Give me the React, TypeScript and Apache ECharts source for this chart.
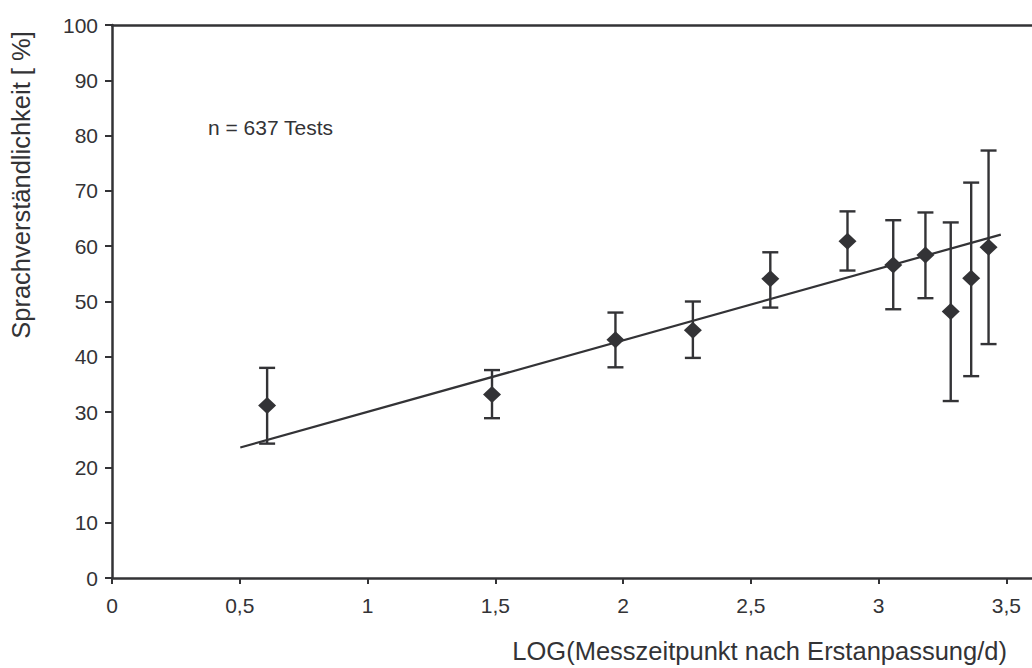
import React, { useEffect, useRef } from "react";
import * as echarts from "echarts";

const xValues = [0.607, 1.487, 1.97, 2.273, 2.576, 2.878, 3.057, 3.183, 3.282, 3.362, 3.43];
const yMeans = [31.2, 33.2, 43.1, 44.8, 54.1, 60.9, 56.6, 58.4, 48.2, 54.2, 59.8];
const yLow = [24.3, 28.9, 38.1, 39.8, 48.9, 55.6, 48.6, 50.6, 32.0, 36.5, 42.3];
const yHigh = [38.0, 37.6, 48.0, 50.0, 58.9, 66.3, 64.7, 66.1, 64.3, 71.5, 77.3];
const trendX = [0.502, 3.478];
const trendY = [23.6, 62.1];

const INK = "#333336";
const FONT = "'Liberation Sans', Arial, sans-serif";

export default function App() {
  const ref = useRef<HTMLDivElement>(null);
  useEffect(() => {
    if (!ref.current) return;
    const chart = echarts.init(ref.current, undefined, { renderer: "svg" });
    const points = xValues.map((x, i) => [x, yMeans[i]]);
    const bars = xValues.map((x, i) => [x, yLow[i], yHigh[i]]);
    const trend = trendX.map((x, i) => [x, trendY[i]]);
    chart.setOption({
      animation: false,
      backgroundColor: "#ffffff",
      grid: { left: 112, top: 25, bottom: 90, right: -3.4 },
      xAxis: [
        {
          type: "value",
          min: 0,
          max: 3.6,
          interval: 0.5,
          splitLine: { show: false },
          axisLine: { show: true, onZero: false, lineStyle: { color: INK, width: 2.5 } },
          axisTick: { show: true, length: 6, lineStyle: { color: INK, width: 2 } },
          axisLabel: {
            showMaxLabel: false,
            color: INK,
            fontSize: 21,
            fontFamily: FONT,
            margin: 17,
            formatter: (v: number) => String(v).replace(".", ","),
          },
        },
        {
          type: "value",
          position: "top",
          min: 0,
          max: 3.6,
          splitLine: { show: false },
          axisLine: { show: true, onZero: false, lineStyle: { color: INK, width: 2.5 } },
          axisTick: { show: false },
          axisLabel: { show: false },
        },
      ],
      yAxis: {
        type: "value",
        min: 0,
        max: 100,
        interval: 10,
        splitLine: { show: false },
        axisLine: { show: true, onZero: false, lineStyle: { color: INK, width: 2.5 } },
        axisTick: { show: true, length: 7, lineStyle: { color: INK, width: 2 } },
        axisLabel: { color: INK, fontSize: 21, fontFamily: FONT, margin: 14 },
      },
      series: [
        {
          type: "line",
          data: trend,
          symbol: "none",
          lineStyle: { color: INK, width: 2.2 },
          z: 2,
        },
        {
          type: "custom",
          data: bars,
          z: 3,
          renderItem: (params: any, api: any) => {
            const x = api.value(0);
            const lo = api.coord([x, api.value(1)]);
            const hi = api.coord([x, api.value(2)]);
            const hw = 8;
            const style = { stroke: INK, lineWidth: 2.4 };
            return {
              type: "group",
              children: [
                { type: "line", shape: { x1: lo[0], y1: lo[1], x2: hi[0], y2: hi[1] }, style },
                { type: "line", shape: { x1: lo[0] - hw, y1: lo[1], x2: lo[0] + hw, y2: lo[1] }, style },
                { type: "line", shape: { x1: hi[0] - hw, y1: hi[1], x2: hi[0] + hw, y2: hi[1] }, style },
              ],
            };
          },
        },
        {
          type: "scatter",
          data: points,
          symbol: "diamond",
          symbolSize: [18, 17],
          itemStyle: { color: INK, opacity: 1 },
          z: 4,
        },
      ],
      graphic: [
        {
          type: "text",
          x: 208,
          y: 127,
          style: {
            text: "n = 637 Tests",
            fill: INK,
            fontSize: 21,
            fontFamily: FONT,
            verticalAlign: "middle",
          },
        },
        {
          type: "text",
          x: 1007,
          y: 651,
          style: {
            text: "LOG(Messzeitpunkt nach Erstanpassung/d)",
            fill: INK,
            fontSize: 25.5,
            fontFamily: FONT,
            align: "right",
            verticalAlign: "middle",
          },
        },
        {
          type: "text",
          x: 21,
          y: 185,
          rotation: Math.PI / 2,
          style: {
            text: "Sprachverständlichkeit [ %]",
            fill: INK,
            fontSize: 25.5,
            fontFamily: FONT,
            align: "center",
            verticalAlign: "middle",
          },
        },
      ],
    });
    return () => chart.dispose();
  }, []);
  return (
    <div
      ref={ref}
      style={{ position: "fixed", left: 0, top: 0, width: 1032, height: 668, background: "#fff" }}
    />
  );
}
